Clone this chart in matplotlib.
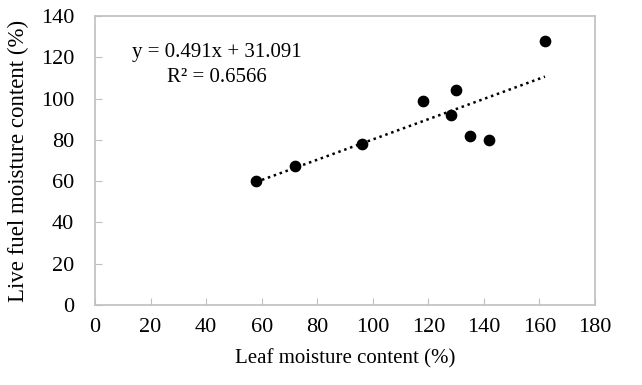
import matplotlib
matplotlib.use("Agg")
import matplotlib.pyplot as plt
import numpy as np

leaf_mc = [58, 72, 96, 118, 128, 130, 135, 142, 162]
live_fmc = [60, 67.5, 78, 99, 92, 104, 82, 80, 128]
slope, intercept = 0.491, 31.091
r2 = 0.6566
xticks = list(range(0, 181, 20))
yticks = list(range(0, 141, 20))

plt.rcParams['font.family'] = ['Liberation Serif', 'DejaVu Serif']
fig = plt.figure(figsize=(6.42, 3.85), dpi=100)
ax = fig.add_axes([95/642, 80/385, 500/642, 289/385])

ax.scatter(leaf_mc, live_fmc, s=55, color='black', zorder=3)
xl = np.array([min(leaf_mc), max(leaf_mc)])
ax.plot(xl, slope*xl + intercept, color='black', linestyle=(0, (1, 1.5)), linewidth=1.8)

ax.set_xlim(0, 180)
ax.set_ylim(0, 140)
ax.set_xticks(xticks)
ax.set_yticks(yticks)
ax.tick_params(direction='in', length=5, color='#bfbfbf', labelsize=16)
ax.tick_params(axis='x', pad=9)
ax.tick_params(axis='y', pad=15)
for s in ax.spines.values():
    s.set_color('#bfbfbf')
    s.set_linewidth(1.2)
ax.set_xlabel('Leaf moisture content (%)', fontsize=15, labelpad=9)
ax.set_ylabel('Live fuel moisture content (%)', fontsize=16.5)
ax.yaxis.set_label_coords(-66/500, 0.5)

ax.text(44, 122.5, f'y = {slope}x + {intercept}', fontsize=15, ha='center', va='center')
ax.text(44, 110, f'R² = {r2}', fontsize=15, ha='center', va='center')

fig.savefig('out.png', dpi=100)
